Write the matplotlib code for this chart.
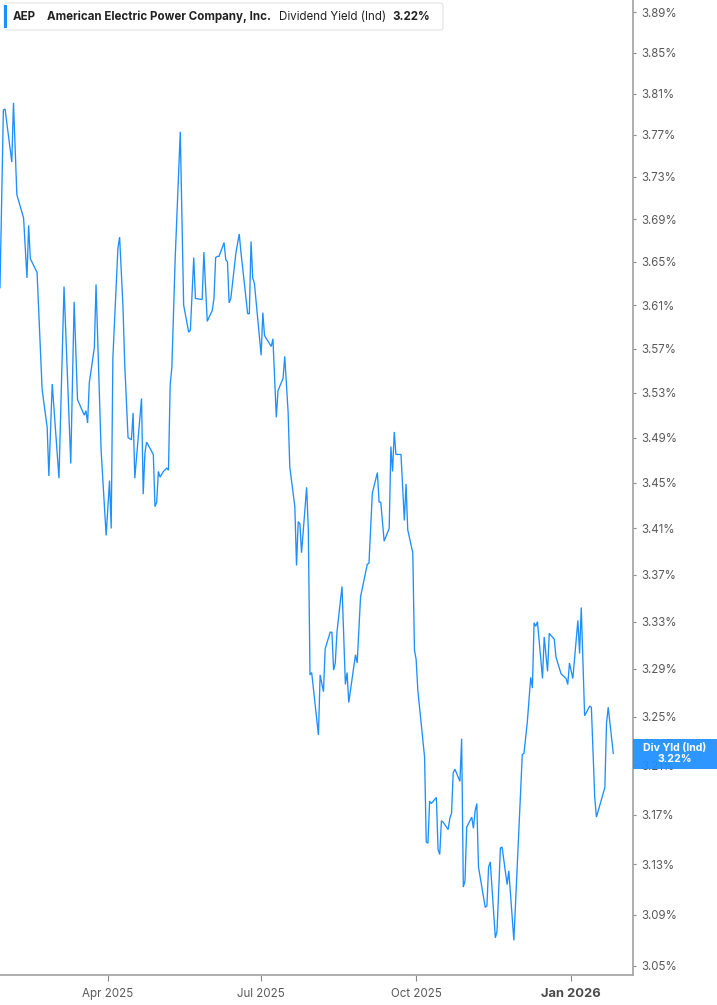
import matplotlib
matplotlib.use("Agg")
import matplotlib.pyplot as plt
from matplotlib.patches import FancyBboxPatch, Rectangle
from matplotlib.ticker import FixedLocator, NullLocator, FuncFormatter
import pandas as pd

plt.rcParams['font.family'] = ['Inter', 'DejaVu Sans']

# AEP dividend yield (indicated)
dates = [
    "2025-01-27", "2025-01-29", "2025-01-30", "2025-02-03", "2025-02-04", "2025-02-06", "2025-02-10", "2025-02-12", "2025-02-13", "2025-02-14",
    "2025-02-18", "2025-02-21", "2025-02-24", "2025-02-25", "2025-02-27", "2025-03-03", "2025-03-06", "2025-03-10", "2025-03-12", "2025-03-14",
    "2025-03-18", "2025-03-19", "2025-03-20", "2025-03-21", "2025-03-24", "2025-03-25", "2025-03-28", "2025-03-31", "2025-04-02", "2025-04-03",
    "2025-04-04", "2025-04-07", "2025-04-08", "2025-04-10", "2025-04-11", "2025-04-13", "2025-04-15", "2025-04-16", "2025-04-17", "2025-04-21",
    "2025-04-22", "2025-04-23", "2025-04-24", "2025-04-28", "2025-04-29", "2025-04-30", "2025-05-01", "2025-05-02", "2025-05-04", "2025-05-06",
    "2025-05-07", "2025-05-08", "2025-05-09", "2025-05-11", "2025-05-14", "2025-05-16", "2025-05-19", "2025-05-20", "2025-05-22", "2025-05-23",
    "2025-05-27", "2025-05-28", "2025-05-30", "2025-06-02", "2025-06-03", "2025-06-04", "2025-06-05", "2025-06-06", "2025-06-09", "2025-06-10",
    "2025-06-11", "2025-06-12", "2025-06-13", "2025-06-16", "2025-06-18", "2025-06-19", "2025-06-23", "2025-06-24", "2025-06-25", "2025-06-26",
    "2025-06-27", "2025-07-01", "2025-07-02", "2025-07-03", "2025-07-07", "2025-07-08", "2025-07-10", "2025-07-11", "2025-07-14", "2025-07-15",
    "2025-07-17", "2025-07-18", "2025-07-21", "2025-07-22", "2025-07-23", "2025-07-24", "2025-07-25", "2025-07-28", "2025-07-29", "2025-07-30",
    "2025-07-31", "2025-08-04", "2025-08-05", "2025-08-07", "2025-08-08", "2025-08-11", "2025-08-12", "2025-08-13", "2025-08-14", "2025-08-15",
    "2025-08-18", "2025-08-20", "2025-08-21", "2025-08-22", "2025-08-26", "2025-08-27", "2025-08-29", "2025-09-02", "2025-09-03", "2025-09-05",
    "2025-09-08", "2025-09-09", "2025-09-10", "2025-09-12", "2025-09-15", "2025-09-16", "2025-09-17", "2025-09-18", "2025-09-19", "2025-09-22",
    "2025-09-24", "2025-09-25", "2025-09-26", "2025-09-29", "2025-09-30", "2025-10-01", "2025-10-02", "2025-10-06", "2025-10-07", "2025-10-08",
    "2025-10-09", "2025-10-10", "2025-10-13", "2025-10-14", "2025-10-15", "2025-10-16", "2025-10-17", "2025-10-20", "2025-10-21", "2025-10-22",
    "2025-10-23", "2025-10-24", "2025-10-27", "2025-10-28", "2025-10-29", "2025-10-30", "2025-10-31", "2025-11-03", "2025-11-04", "2025-11-05",
    "2025-11-06", "2025-11-07", "2025-11-11", "2025-11-12", "2025-11-13", "2025-11-14", "2025-11-17", "2025-11-18", "2025-11-20", "2025-11-21",
    "2025-11-24", "2025-11-25", "2025-11-28", "2025-11-30", "2025-12-03", "2025-12-04", "2025-12-06", "2025-12-08", "2025-12-09", "2025-12-10",
    "2025-12-11", "2025-12-12", "2025-12-15", "2025-12-16", "2025-12-18", "2025-12-19", "2025-12-22", "2025-12-23", "2025-12-26", "2025-12-29",
    "2025-12-30", "2025-12-31", "2026-01-02", "2026-01-05", "2026-01-06", "2026-01-07", "2026-01-09", "2026-01-12", "2026-01-13", "2026-01-15",
    "2026-01-16", "2026-01-21", "2026-01-22", "2026-01-23", "2026-01-26",
]
yields = [
    3.626, 3.794, 3.795, 3.744, 3.801, 3.713, 3.691, 3.635, 3.684, 3.653,
    3.640, 3.533, 3.499, 3.456, 3.538, 3.454, 3.627, 3.467, 3.613, 3.524,
    3.510, 3.514, 3.503, 3.539, 3.571, 3.629, 3.479, 3.404, 3.452, 3.410,
    3.562, 3.663, 3.673, 3.608, 3.557, 3.490, 3.488, 3.512, 3.454, 3.525,
    3.440, 3.476, 3.486, 3.475, 3.429, 3.433, 3.460, 3.455, 3.460, 3.463,
    3.461, 3.537, 3.553, 3.654, 3.773, 3.610, 3.585, 3.587, 3.654, 3.616,
    3.615, 3.659, 3.595, 3.605, 3.616, 3.654, 3.655, 3.655, 3.668, 3.652,
    3.650, 3.612, 3.616, 3.658, 3.676, 3.659, 3.602, 3.602, 3.669, 3.635,
    3.630, 3.564, 3.603, 3.582, 3.572, 3.579, 3.508, 3.532, 3.543, 3.563,
    3.513, 3.464, 3.429, 3.378, 3.416, 3.414, 3.389, 3.446, 3.409, 3.285,
    3.287, 3.235, 3.285, 3.271, 3.307, 3.321, 3.321, 3.289, 3.295, 3.321,
    3.360, 3.277, 3.287, 3.262, 3.302, 3.295, 3.351, 3.379, 3.380, 3.441,
    3.459, 3.433, 3.433, 3.399, 3.410, 3.482, 3.460, 3.495, 3.475, 3.475,
    3.417, 3.449, 3.409, 3.389, 3.306, 3.298, 3.272, 3.217, 3.148, 3.147,
    3.181, 3.179, 3.184, 3.142, 3.138, 3.165, 3.164, 3.158, 3.167, 3.171,
    3.204, 3.207, 3.197, 3.232, 3.112, 3.117, 3.160, 3.168, 3.159, 3.173,
    3.179, 3.128, 3.096, 3.097, 3.128, 3.132, 3.072, 3.077, 3.143, 3.144,
    3.114, 3.125, 3.070, 3.128, 3.219, 3.220, 3.246, 3.283, 3.274, 3.329,
    3.326, 3.330, 3.282, 3.317, 3.288, 3.320, 3.315, 3.300, 3.286, 3.282,
    3.277, 3.295, 3.282, 3.331, 3.303, 3.342, 3.251, 3.259, 3.258, 3.184,
    3.168, 3.192, 3.245, 3.258, 3.220,
]

ytick_vals = [3.05, 3.09, 3.13, 3.17, 3.21, 3.25, 3.29, 3.33, 3.37, 3.41, 3.45,
              3.49, 3.53, 3.57, 3.61, 3.65, 3.69, 3.73, 3.77, 3.81, 3.85, 3.89]
xtick_dates = ["2025-04-01", "2025-07-01", "2025-10-01", "2026-01-01"]
xtick_labels = ["Apr 2025", "Jul 2025", "Oct 2025", "Jan 2026"]

ticker = "AEP"
company = "American Electric Power Company, Inc."
metric = "Dividend Yield (Ind)"
last_text = "3.22%"
end_label = "Div Yld (Ind)"

blue = "#1E8FFF"
axis_gray = "#a8a8a8"
text_gray = "#5a5a5a"

W, H = 717, 1005
fig = plt.figure(figsize=(W / 100, H / 100), dpi=100)
fig.patch.set_facecolor("white")
ax = fig.add_axes([0, 30 / H, 632.5 / W, 975 / H])

x = pd.to_datetime(dates)
ax.plot(x, yields, color=blue, lw=0.95, solid_joinstyle="miter")

ax.set_yscale("log")
ax.set_ylim(3.043, 3.902)
ax.set_xlim(pd.Timestamp("2025-01-27"), pd.Timestamp("2026-02-06 10:00"))

ax.yaxis.tick_right()
ax.yaxis.set_major_locator(FixedLocator(ytick_vals))
ax.yaxis.set_minor_locator(NullLocator())
ax.yaxis.set_major_formatter(FuncFormatter(lambda v, p: "%.2f%%" % v))
ax.set_xticks(pd.to_datetime(xtick_dates))
ax.set_xticklabels(xtick_labels)
ax.xaxis.set_minor_locator(NullLocator())

for s in ["left", "top"]:
    ax.spines[s].set_visible(False)
for s in ["right", "bottom"]:
    ax.spines[s].set_color(axis_gray)
    ax.spines[s].set_linewidth(1.3)

ax.tick_params(axis="y", which="major", length=2.5, width=0.8, color="#888888",
               pad=4, labelsize=8.3, labelcolor=text_gray)
ax.tick_params(axis="x", which="major", length=4, width=0.8, color="#888888",
               pad=5, labelsize=8.3, labelcolor=text_gray)
xl = ax.get_xticklabels()
xl[-1].set_fontweight("bold")
xl[-1].set_fontsize(9.3)
xl[-1].set_color("#4a4a4a")

# legend box at top left
def fx(px):
    return px / W

def fy(py):
    return 1 - py / H

box = FancyBboxPatch((fx(4), fy(30)), fx(439), 27 / H,
                     boxstyle="round,pad=0,rounding_size=0.003",
                     transform=fig.transFigure, fc="white", ec="#e4e4e4", lw=0.8)
fig.add_artist(box)
fig.add_artist(Rectangle((fx(4), fy(28)), fx(3), 23 / H,
                         transform=fig.transFigure, color=blue, lw=0))
ty = fy(17)
fig.text(fx(13), ty, ticker, fontsize=8.3, fontweight="bold", color="#222222", va="center")
fig.text(fx(47), ty, company, fontsize=8.3, fontweight="bold", color="#222222", va="center")
fig.text(fx(279), ty, metric, fontsize=8.3, color="#222222", va="center")
fig.text(fx(392), ty, last_text, fontsize=8.3, fontweight="bold", color="#222222", va="center")

# last value tag on the right axis (slightly see-through, as in the original)
fig.add_artist(Rectangle((fx(633), fy(769)), fx(84), 30 / H,
                         transform=fig.transFigure, color=blue, alpha=0.93, lw=0, zorder=5))
fig.text(fx(675), fy(747.5), end_label, fontsize=7.6, fontweight="bold", color="white",
         ha="center", va="center", zorder=6)
fig.text(fx(675), fy(759), last_text, fontsize=7.6, fontweight="bold", color="white",
         ha="center", va="center", zorder=6)

fig.savefig("out.png", dpi=100, facecolor="white")
